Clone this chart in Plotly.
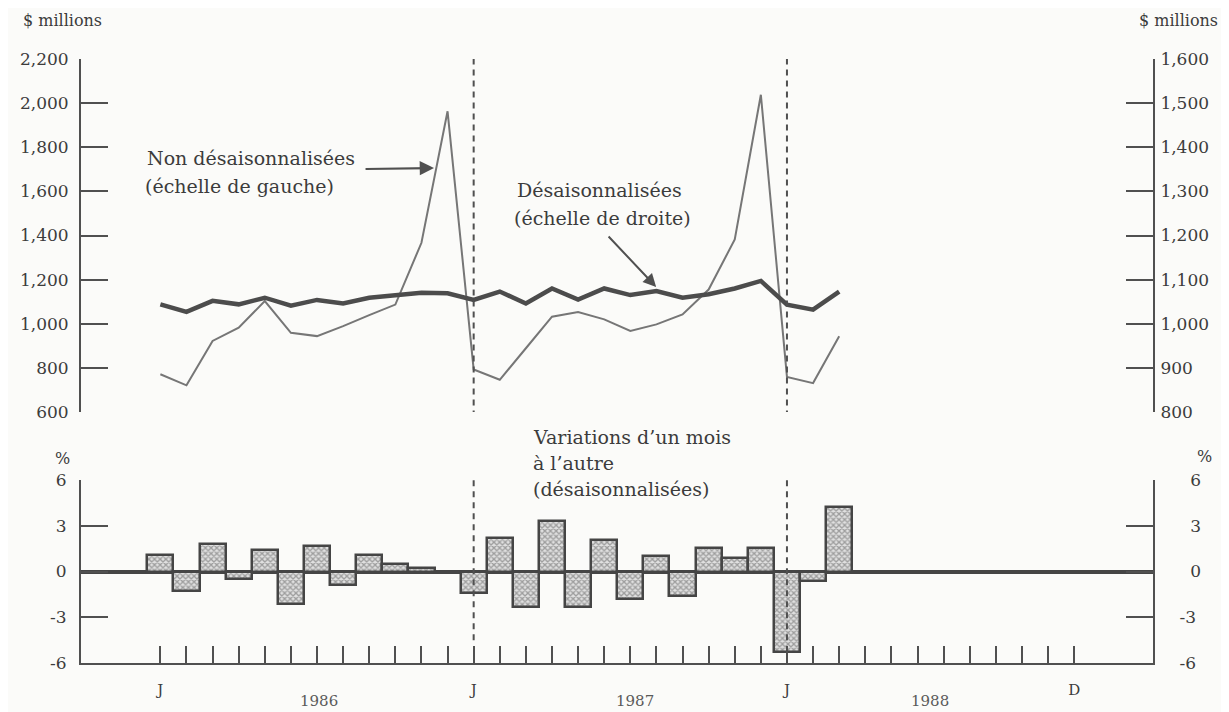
import plotly.graph_objects as go

# ---- data (monthly, Jan 1986 .. Mar 1988) ----
months = list(range(27))  # 0 = Jan 1986
non_adjusted = [771, 721, 922, 982, 1103, 959, 944, 989, 1039, 1087, 1367, 1963,
                793, 746, 889, 1032, 1053, 1020, 967, 997, 1042, 1155, 1382, 2038,
                759, 731, 943]  # $ millions, left scale
adjusted = [1044, 1027, 1052, 1044, 1059, 1041, 1054, 1046, 1059, 1065, 1070, 1069,
            1054, 1073, 1046, 1080, 1055, 1080, 1065, 1074, 1059, 1067, 1080, 1097,
            1043, 1032, 1073]  # $ millions, right scale
pct_change = [1.1, -1.3, 1.8, -0.5, 1.4, -2.1, 1.7, -0.9, 1.1, 0.5, 0.2, -0.1,
              -1.4, 2.2, -2.35, 3.3, -2.35, 2.05, -1.8, 1.0, -1.6, 1.55, 0.9, 1.55,
              -5.3, -0.6, 4.2]

all_month_ticks = list(range(36))
month_tick_text = {0: "J", 12: "J", 24: "J", 35: "D"}
year_labels = ["1986", "1987", "1988"]
year_label_px = [312, 631, 928]
year_starts = [12, 24]

left_ticks = [600, 800, 1000, 1200, 1400, 1600, 1800, 2000, 2200]
right_ticks = [800, 900, 1000, 1100, 1200, 1300, 1400, 1500, 1600]
pct_ticks = [-6, -3, 0, 3, 6]

FONT = "DejaVu Serif"
TXT = "#3c3c3c"
AX = "#505050"
OFF = 8                      # page body margin of the browser
W, H = 1229 - OFF, 712 - OFF
L, T = 72 - OFF, 59 - OFF
R = W - (1153 - OFF)
B = H - (663 - OFF)
PW, PH = W - L - R, H - T - B


def px(xp):                  # page pixel -> paper fraction
    return (xp - OFF - L) / PW


def py(yp):
    return (H - B - (yp - OFF)) / PH


fig = go.Figure()
fig.add_trace(go.Scatter(x=months, y=non_adjusted, mode="lines",
                         line=dict(color="#767676", width=2), xaxis="x", yaxis="y",
                         showlegend=False, hoverinfo="skip"))
fig.add_trace(go.Scatter(x=months, y=adjusted, mode="lines",
                         line=dict(color="#4c4c4c", width=4.5), xaxis="x", yaxis="y2",
                         showlegend=False, hoverinfo="skip"))
fig.add_trace(go.Bar(x=months, y=pct_change, xaxis="x2", yaxis="y3", width=1,
                     marker=dict(color="#cccccc",
                                 line=dict(color="#454545", width=2.5),
                                 pattern=dict(shape="x", size=4, solidity=0.55,
                                              fgcolor="#595959", bgcolor="#e0e0e0")),
                     showlegend=False, hoverinfo="skip"))
fig.add_trace(go.Scatter(x=[months[0]], y=[0], mode="markers", marker=dict(opacity=0),
                         xaxis="x2", yaxis="y4", showlegend=False, hoverinfo="skip"))

xr = [-3.04, 38.02]
top_dom = [py(412), 1.0]
bot_dom = [0.0, py(480)]
tickfont = dict(family=FONT, size=17, color=TXT)

fig.update_layout(
    width=W, height=H,
    margin=dict(l=L, r=R, t=T, b=B, pad=0),
    paper_bgcolor="#fbfbf9", plot_bgcolor="rgba(0,0,0,0)",
    bargap=0,
    xaxis=dict(domain=[0, 1], anchor="y", range=xr, visible=False),
    xaxis2=dict(domain=[0, 1], anchor="y3", range=xr, showline=True, linecolor=AX,
                linewidth=2, showgrid=False, zeroline=False,
                tickmode="array", tickvals=all_month_ticks,
                ticktext=[month_tick_text.get(m, "") for m in all_month_ticks],
                ticks="inside", ticklen=17, tickwidth=2, tickcolor=AX,
                ticklabelstandoff=12,
                tickfont=dict(family=FONT, size=15, color=TXT)),
    yaxis=dict(domain=top_dom, anchor="x", range=[600, 2200], tickvals=left_ticks,
               tickformat=",", ticks="inside", ticklen=27, tickwidth=2, tickcolor=AX,
               showline=True, linecolor=AX, linewidth=2, showgrid=False, zeroline=False,
               ticklabelstandoff=7, tickfont=tickfont),
    yaxis2=dict(overlaying="y", side="right", anchor="x", range=[800, 1600],
                tickvals=right_ticks, tickformat=",", ticks="inside", ticklen=27,
                tickwidth=2, tickcolor=AX, showline=True, linecolor=AX, linewidth=2,
                showgrid=False, zeroline=False, ticklabelstandoff=2, tickfont=tickfont),
    yaxis3=dict(domain=bot_dom, anchor="x2", range=[-6, 6], tickvals=pct_ticks,
                ticktext=[str(v) for v in pct_ticks],
                ticks="inside", ticklen=27, tickwidth=2, tickcolor=AX,
                showline=True, linecolor=AX, linewidth=2, showgrid=False,
                zeroline=True, zerolinecolor="#454545", zerolinewidth=4,
                ticklabelstandoff=9, tickfont=tickfont),
    yaxis4=dict(overlaying="y3", side="right", anchor="x2", range=[-6, 6],
                tickvals=pct_ticks,
                ticktext=[("\u2007" + str(v)) if v >= 0 else str(v) for v in pct_ticks],
                ticks="inside", ticklen=27, tickwidth=2, tickcolor=AX,
                showline=True, linecolor=AX, linewidth=2, showgrid=False, zeroline=False,
                ticklabelstandoff=21, tickfont=tickfont),
)

# dashed year separators
for m in year_starts:
    fig.add_shape(type="line", xref="x", yref="y", x0=m, x1=m, y0=580, y1=2200,
                  line=dict(color="#505050", width=2, dash="6px,5px"))
    fig.add_shape(type="line", xref="x2", yref="y3", x0=m, x1=m, y0=-4.5, y1=6,
                  line=dict(color="#505050", width=2, dash="6px,5px"))


def label(text, x, y, size=19, xanchor="left", color=TXT):
    fig.add_annotation(text=text, xref="paper", yref="paper", x=px(x), y=py(y),
                       xanchor=xanchor, yanchor="middle", showarrow=False,
                       font=dict(family=FONT, size=size, color=color))


label("$ millions", 12, 20, size=16)
label("$ millions", 1221, 20, size=16, xanchor="right")
label("%", 53, 458, size=16, xanchor="center")
label("%", 1205, 456, size=16, xanchor="center")

label("Non désaisonnalisées", 137, 158)
label("(échelle de gauche)", 135, 186)
label("Désaisonnalisées", 510, 190)
label("(échelle de droite)", 507, 218)
label("Variations d\u2019un mois", 526, 437)
label("à l\u2019autre", 526, 463)
label("(désaisonnalisées)", 526, 489)

for t, xpix in zip(year_labels, year_label_px):
    label(t, xpix, 701, size=15, xanchor="center", color="#5a5a5a")

# arrows
fig.add_annotation(xref="paper", yref="paper", x=px(428), y=py(168), text="",
                   showarrow=True, ax=-70, ay=1, arrowhead=2, arrowsize=1.3,
                   arrowwidth=2.2, arrowcolor="#505050")
fig.add_annotation(xref="paper", yref="paper", x=px(652), y=py(287), text="",
                   showarrow=True, ax=-49, ay=-52, arrowhead=2, arrowsize=1.3,
                   arrowwidth=2, arrowcolor="#505050")

fig.write_html("out.html")
